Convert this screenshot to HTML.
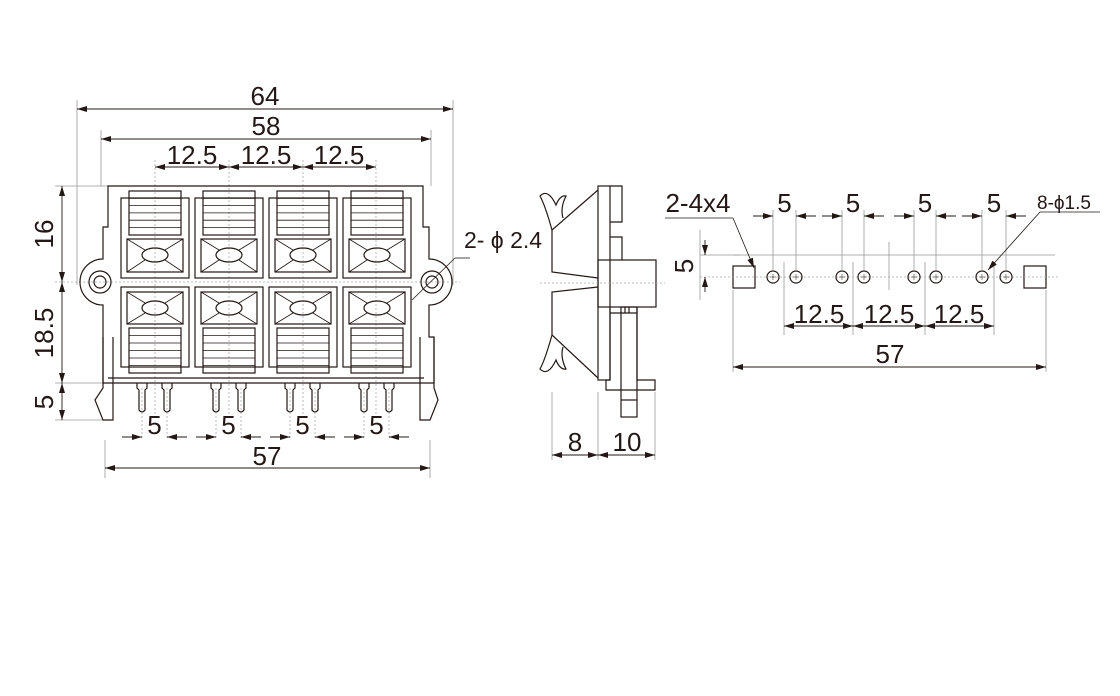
<!DOCTYPE html>
<html><head><meta charset="utf-8"><style>
html,body{margin:0;padding:0;background:#fff;width:1120px;height:696px;overflow:hidden}
svg{display:block}
text{font-family:"Liberation Sans",Arial,sans-serif;fill:#231815}
</style></head><body>
<svg id="s" width="1120" height="696" viewBox="0 0 1120 696" xmlns="http://www.w3.org/2000/svg">
<defs>
<marker id="a" viewBox="0 0 10 6" refX="10" refY="3" markerWidth="10" markerHeight="6" orient="auto-start-reverse" markerUnits="userSpaceOnUse"><path d="M0,0L10,3L0,6z" fill="#231815"/></marker>
</defs>
<g id="g" fill="none" stroke="#231815" stroke-width="1.2"></g>
<g id="t"></g>
</svg>
<script>
const g=document.getElementById('g'),T=document.getElementById('t');
const NS='http://www.w3.org/2000/svg';
function el(tag,at,par){const e=document.createElementNS(NS,tag);for(const k in at)e.setAttribute(k,at[k]);(par||g).appendChild(e);return e;}
function L(x1,y1,x2,y2,o){return el('line',Object.assign({x1,y1,x2,y2},o||{}));}
const thin={stroke:'#999','stroke-width':0.8};
const dot={stroke:'#aaa','stroke-width':0.8,'stroke-dasharray':'2,2'};
function dim(x1,y1,x2,y2){L(x1,y1,x2,y2,{'stroke-width':0.9,'marker-start':'url(#a)','marker-end':'url(#a)'});}
function txt(x,y,s,size,rot){size=size||26;const e=el('text',{x,y,'font-size':size,'text-anchor':'middle'},T);if(rot)e.setAttribute('transform',`rotate(-90 ${x} ${y})`);e.textContent=s;}
function R(x,y,w,h,o){return el('rect',Object.assign({x,y,width:w,height:h},o||{}));}

L(77,100,77,285,thin);L(453,100,453,285,thin);
L(101,130,101,186,thin);L(431,130,431,186,thin);
L(105,440,105,478,thin);L(430,440,430,478,thin);
dim(77,109,453,109);txt(265,105,'64');
dim(101,139,431,139);txt(266,135,'58');
[155,229,303,376].forEach(x=>L(x,160,x,420,dot));
dim(155,167,229,167);dim(229,167,303,167);dim(303,167,376,167);
txt(192,164,'12.5');txt(266,164,'12.5');txt(339,164,'12.5');
L(55,186,108,186,thin);L(55,282,460,282,dot);L(55,383,108,383,thin);L(55,420,105,420,thin);
dim(62,186,62,282);dim(62,282,62,383);dim(62,383,62,420);
txt(53,234,'16',26,true);txt(53,333,'18.5',26,true);txt(53,402,'5',26,true);
el('path',{d:'M108,186 L423,186 L423,227 L429,227 L429,259 A23,23 0 0 1 429,305 L429,337 L434,337 L434,383 L108,383 L103,383 L103,337 L103,305 A23,23 0 0 1 103,259 L103,227 L108,227 Z'});
L(108,378,424,378);
[[100,282],[432,282]].forEach(([x,y])=>{el('circle',{cx:x,cy:y,r:11});el('circle',{cx:x,cy:y,r:6});});
el('path',{d:'M103,337 L103,388 L95,400 L103,420 L113,420 L113,337'});
el('path',{d:'M434,337 L434,388 L438,400 L430,420 L420,420 L420,337'});
[121,195,269,343].forEach(x0=>{
  const w=68;
  R(x0,198,w,80);R(x0+8,191,w-16,44);
  for(let i=1;i<6;i++)L(x0+8,191+i*7.3,x0+w-8,191+i*7.3,{'stroke-width':0.8});
  R(x0+6,239,w-12,33);
  const cx=x0+w/2;
  el('ellipse',{cx,cy:255,rx:13,ry:7});
  el('path',{d:`M${x0+6},239 L${cx-10},250 M${x0+6},272 L${cx-10},260 M${x0+w-6},239 L${cx+10},250 M${x0+w-6},272 L${cx+10},260`,'stroke-width':0.8});
  R(x0,287,w,80);R(x0+8,328,w-16,45);
  for(let i=1;i<6;i++)L(x0+8,328+i*7.5,x0+w-8,328+i*7.5,{'stroke-width':0.8});
  R(x0+6,292,w-12,32);
  el('ellipse',{cx,cy:308,rx:13,ry:7});
  el('path',{d:`M${x0+6},292 L${cx-10},303 M${x0+6},324 L${cx-10},313 M${x0+w-6},292 L${cx+10},303 M${x0+w-6},324 L${cx+10},313`,'stroke-width':0.8});
  [cx-13,cx+12].forEach(px=>{el('path',{d:`M${px-5},383 L${px-5},388 L${px-3},390 L${px-3},410 Q${px},414 ${px+3},410 L${px+3},390 L${px+5},388 L${px+5},383`});L(px,388,px,440,dot);});
});
[[142,167],[216,241],[290,315],[364,389]].forEach(([a,b],i)=>{
  L(a-20,437,a,437,{'stroke-width':0.9,'marker-end':'url(#a)'});
  L(b+20,437,b,437,{'stroke-width':0.9,'marker-end':'url(#a)'});
  txt((a+b)/2,434,'5');
});
dim(105,468,430,468);txt(267,465,'57');
L(412,300,455,258,{'stroke-width':0.8});L(455,258,470,258,{'stroke-width':0.8});
txt(503,248,'2- ϕ 2.4',23);

R(598,186,12,194);
el('path',{d:'M610,186 L622,186 L622,222 L610,222'});
el('path',{d:'M610,237 L622,237 L622,260'});
R(598,260,58,47);
el('path',{d:'M598,190 L552,230 L552,272 L598,278 M598,287 L552,292 L552,335 L598,378'});
el('path',{d:'M552,230 Q545,205 540,196 Q548,188 556,205 Q560,195 566,196 Q560,208 563,218'});
el('path',{d:'M552,335 Q545,360 540,369 Q548,377 556,360 Q560,370 566,369 Q560,357 563,347'});
el('path',{d:'M610,307 L610,380 L606,380 L606,390 L655,390 L655,380 L637,380 L637,307'});
R(621,307,16,110);L(621,400,637,400);
L(610,313,637,313);L(625,307,625,313);L(629,307,629,313);
L(540,283,665,283,dot);
L(552,392,552,460,thin);L(598,392,598,460,thin);L(655,392,655,460,thin);
dim(552,455,598,455);dim(598,455,655,455);
txt(575,451,'8');txt(627,451,'10');

R(733,266,22,22);R(1024,266,22,22);
L(700,277,1060,277,dot);L(733,255,1055,255,thin);
[773,796,842,864,914,936,982,1006].forEach((x,i)=>{el('circle',{cx:x,cy:277,r:6});el('path',{d:`M${x-3},277h6M${x},274v6`,'stroke-width':0.5});L(x,210,x,271,thin);});
[784,853,925,994].forEach(x=>L(x,262,x,335,thin));
L(889,242,889,290,thin);
L(733,290,733,372,thin);L(1046,290,1046,372,thin);
[[773,796],[842,864],[914,936],[982,1006]].forEach(([a,b])=>{
  L(a-20,216,a,216,{'stroke-width':0.9,'marker-end':'url(#a)'});
  L(b+20,216,b,216,{'stroke-width':0.9,'marker-end':'url(#a)'});
  txt((a+b)/2,212,'5');
});
dim(784,326,853,326);dim(853,326,925,326);dim(925,326,994,326);
txt(819,323,'12.5');txt(889,323,'12.5');txt(959,323,'12.5');
dim(733,367,1046,367);txt(890,363,'57');
L(700,230,700,300,thin);L(700,255,740,255,thin);
L(705,240,705,255,{'stroke-width':0.9,'marker-end':'url(#a)'});L(705,292,705,277,{'stroke-width':0.9,'marker-end':'url(#a)'});
txt(693,266,'5',26,true);
L(665,218,733,218,{'stroke-width':0.8});L(733,218,754,268,{'stroke-width':0.8,'marker-end':'url(#a)'});
txt(698,212,'2-4x4');
L(1040,212,1100,212,{'stroke-width':0.8});L(1040,212,988,270,{'stroke-width':0.8,'marker-end':'url(#a)'});
txt(1064,209,'8-ϕ1.5',19);
</script>
</body></html>
